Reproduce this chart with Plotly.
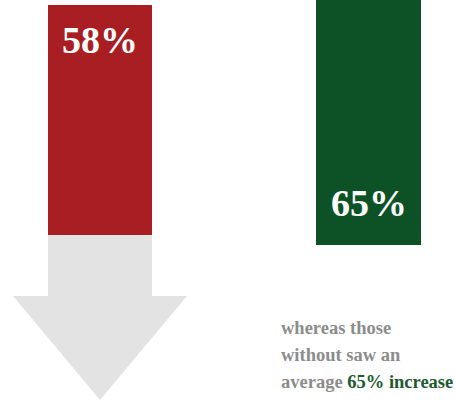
import plotly.graph_objects as go

# --- data ---
groups = ["with", "without"]
values = [58, 65]                    # percent changes shown on the bars
bar_colors = ["#a91e22", "#0d5227"]
caption_lines = ["whereas those", "without saw an", "average "]
caption_highlight = "65% increase"

# --- layout geometry (pixels of the 455x401 canvas) ---
W, H = 455, 401
bar_x = [100, 368.5]
bar_w = [104, 105]
bar_top = [5, 0]
bar_len = [230, 245]
label_y = [40, 203]

fig = go.Figure()

# grey down arrow continuing below the red bar
ax0, ax1 = bar_x[0] - bar_w[0] / 2, bar_x[0] + bar_w[0] / 2
shaft_top = bar_top[0] + bar_len[0]
head_y, tip_y = 296, 400
head_l, head_r = 13, 187
fig.add_trace(go.Scatter(
    x=[ax0, ax1, ax1, head_r, bar_x[0], head_l, ax0, ax0],
    y=[shaft_top, shaft_top, head_y, head_y, tip_y, head_y, head_y, shaft_top],
    fill="toself", fillcolor="#e3e3e3", mode="lines",
    line=dict(width=0, color="#e3e3e3"), hoverinfo="skip", showlegend=False,
))

# bars (hanging from the top)
fig.add_trace(go.Bar(
    x=bar_x, y=bar_len, base=bar_top, width=bar_w,
    marker=dict(color=bar_colors, line=dict(width=0)),
    hoverinfo="skip", showlegend=False,
))

# value labels
for i, v in enumerate(values):
    fig.add_annotation(
        x=bar_x[i], y=label_y[i], text=f"<b>{v}%</b>", showarrow=False,
        font=dict(family="Liberation Serif", size=38, color="white"),
        xanchor="center", yanchor="middle",
    )

# caption
cap_y = [328, 355, 382]
for i, line in enumerate(caption_lines):
    txt = f"<b>{line}</b>"
    if i == len(caption_lines) - 1:
        txt += f"<b><span style='color:#1d5b2f'>{caption_highlight}</span></b>"
    fig.add_annotation(
        x=279, y=cap_y[i], text=txt, showarrow=False,
        font=dict(family="Liberation Serif", size=18.5, color="#8c8c8c"),
        xanchor="left", yanchor="middle",
    )

fig.update_layout(
    width=W, height=H,
    margin=dict(l=0, r=0, t=0, b=0),
    paper_bgcolor="white", plot_bgcolor="white",
    xaxis=dict(range=[0, W], visible=False, fixedrange=True),
    yaxis=dict(range=[H, 0], visible=False, fixedrange=True),
    bargap=0,
)

fig.write_html(
    "out.html",
    config={"displayModeBar": False},
    post_script="document.body.style.margin='0';document.body.style.overflow='hidden';",
)
